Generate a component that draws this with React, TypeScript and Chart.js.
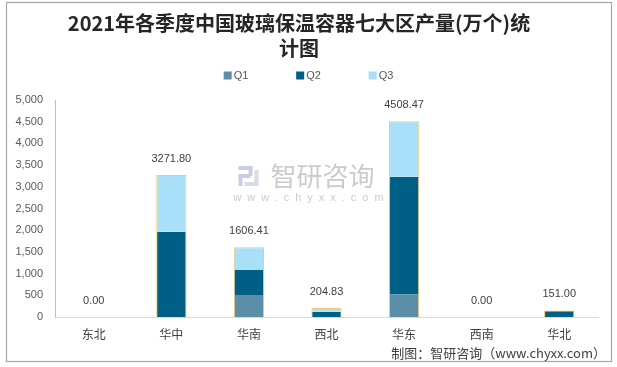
import React, { useEffect, useRef } from "react";
import { Chart, registerables } from "chart.js";

Chart.register(...registerables);

const categories = ["东北", "华中", "华南", "西北", "华东", "西南", "华北"];
const seriesNames = ["Q1", "Q2", "Q3"];
const q1 = [0, 0, 507, 0, 510, 0, 0];
const q2 = [0, 1965, 576, 122, 2723, 0, 151];
const q3 = [0, 1306.8, 523.41, 82.83, 1275.47, 0, 0];
const seriesColors = ["#5B8FA9", "#005F84", "#A7E0F8"];
const yMin = 0;
const yMax = 5000;
const yStep = 500;
const titleLines = ["2021年各季度中国玻璃保温容器七大区产量(万个)统", "计图"];
const footerText = "制图：智研咨询（www.chyxx.com）";
const watermarkName = "智研咨询";
const watermarkUrl = "www.chyxx.com";

const allSeries = [q1, q2, q3];

const frame = {
  id: "frame",
  beforeDraw(chart: any) {
    const { ctx } = chart;
    ctx.save();
    ctx.fillStyle = "#ffffff";
    ctx.fillRect(0, 0, chart.width, chart.height);
    ctx.strokeStyle = "#a6a6a6";
    ctx.lineWidth = 1.2;
    ctx.strokeRect(6.5, 2.5, chart.width - 12, chart.height - 8);
    ctx.restore();
  },
};

const watermark = {
  id: "watermark",
  beforeDatasetsDraw(chart: any) {
    const { ctx } = chart;
    const cx = chart.width / 2;
    ctx.save();
    ctx.fillStyle = "#c9cee4";
    const lx = cx - 70;
    const ly = 166;
    ctx.fillRect(lx, ly, 14, 4);
    ctx.fillRect(lx + 10, ly, 4, 10);
    ctx.fillRect(lx, ly + 8, 12, 4);
    ctx.fillRect(lx, ly + 8, 4, 12);
    ctx.fillStyle = "#d8dcea";
    ctx.fillRect(lx + 16, ly + 4, 4, 12);
    ctx.fillRect(lx + 6, ly + 16, 14, 4);
    ctx.font = "26px 'Noto Sans CJK SC'";
    ctx.fillStyle = "#cbcbcb";
    ctx.textAlign = "left";
    ctx.textBaseline = "middle";
    ctx.fillText(watermarkName, cx - 38, 176);
    ctx.font = "11px 'Liberation Sans'";
    (ctx as any).letterSpacing = "6px";
    ctx.textAlign = "center";
    ctx.fillText(watermarkUrl, cx + 3, 198);
    ctx.restore();
  },
};

const totalsLabels = {
  id: "totalsLabels",
  afterDatasetsDraw(chart: any) {
    const { ctx } = chart;
    const xs = chart.scales.x;
    const ys = chart.scales.y;
    ctx.save();
    ctx.font = "11px 'Liberation Sans'";
    ctx.fillStyle = "#404040";
    ctx.textAlign = "center";
    ctx.textBaseline = "middle";
    categories.forEach((_, i) => {
      const total = allSeries.reduce((s, arr) => s + arr[i], 0);
      const x = xs.getPixelForValue(i);
      const y = ys.getPixelForValue(total);
      ctx.fillText(total.toFixed(2), x, y - 16);
    });
    ctx.restore();
  },
};

const customLegend = {
  id: "customLegend",
  afterDraw(chart: any) {
    const { ctx } = chart;
    const spacing = 72.5;
    ctx.save();
    ctx.font = "11px 'Liberation Sans'";
    const lastW = 10 + ctx.measureText(seriesNames[seriesNames.length - 1]).width;
    const totalW = spacing * (seriesNames.length - 1) + lastW;
    let x = chart.width / 2 - totalW / 2;
    const yc = 75.5;
    seriesNames.forEach((name, i) => {
      ctx.fillStyle = seriesColors[i];
      ctx.fillRect(x, yc - 4, 8, 8);
      ctx.fillStyle = "#595959";
      ctx.textAlign = "left";
      ctx.textBaseline = "middle";
      ctx.fillText(name, x + 10, yc);
      x += spacing;
    });
    ctx.restore();
  },
};

const footer = {
  id: "footer",
  afterDraw(chart: any) {
    const { ctx } = chart;
    ctx.save();
    ctx.font = "13px 'Noto Sans CJK SC'";
    ctx.fillStyle = "#404040";
    ctx.textAlign = "right";
    ctx.textBaseline = "middle";
    ctx.fillText(footerText, chart.width - 11, 353);
    ctx.restore();
  },
};

function borderFor(ctx: any) {
  const i = ctx.dataIndex;
  const d = ctx.datasetIndex;
  const v = allSeries[d][i];
  if (!v) return 0;
  let top = true;
  for (let k = d + 1; k < allSeries.length; k++) {
    if (allSeries[k][i] > 0) top = false;
  }
  return { left: 1, right: 1, top: top ? 1 : 0, bottom: 0 };
}

export default function App() {
  const ref = useRef<HTMLCanvasElement | null>(null);

  useEffect(() => {
    if (!ref.current) return;
    const chart = new Chart(ref.current, {
      type: "bar",
      data: {
        labels: categories,
        datasets: seriesNames.map((name, i) => ({
          label: name,
          data: allSeries[i],
          backgroundColor: seriesColors[i],
          borderColor: "#F2C96E",
          borderWidth: borderFor as any,
          borderSkipped: false as any,
          barPercentage: 0.39,
          categoryPercentage: 1,
        })),
      },
      options: {
        animation: false,
        responsive: false,
        devicePixelRatio: 1,
        layout: { padding: { left: 0, right: 19, top: 0, bottom: 20 } },
        plugins: {
          legend: { display: false },
          tooltip: { enabled: false },
          title: {
            display: true,
            text: titleLines,
            color: "#262626",
            font: { family: "'Noto Sans CJK SC'", size: 20, weight: "bold", lineHeight: 1.25 },
            padding: { top: 11, bottom: 39 },
          },
        },
        scales: {
          x: {
            stacked: true,
            grid: { display: false, drawTicks: false },
            border: { display: true, color: "#d9d9d9", width: 1 },
            ticks: {
              color: "#404040",
              font: { family: "'Noto Sans CJK SC'", size: 12 },
              padding: 10,
              maxRotation: 0,
            },
            afterFit: (s: any) => {
              s.height = 30;
            },
          },
          y: {
            stacked: true,
            min: yMin,
            max: yMax,
            grid: { display: false, drawTicks: false },
            border: { display: true, color: "#bfbfbf", width: 1 },
            ticks: {
              stepSize: yStep,
              color: "#595959",
              font: { family: "'Liberation Sans'", size: 11 },
              padding: 12,
            },
            afterFit: (s: any) => {
              s.width = 55;
            },
          },
        },
      },
      plugins: [frame, watermark, totalsLabels, customLegend, footer],
    });
    return () => chart.destroy();
  }, []);

  return (
    <div style={{ position: "fixed", left: 0, top: 0, width: 617, height: 367, background: "#fff" }}>
      <canvas ref={ref} width={617} height={367} style={{ display: "block", width: 617, height: 367 }} />
    </div>
  );
}
